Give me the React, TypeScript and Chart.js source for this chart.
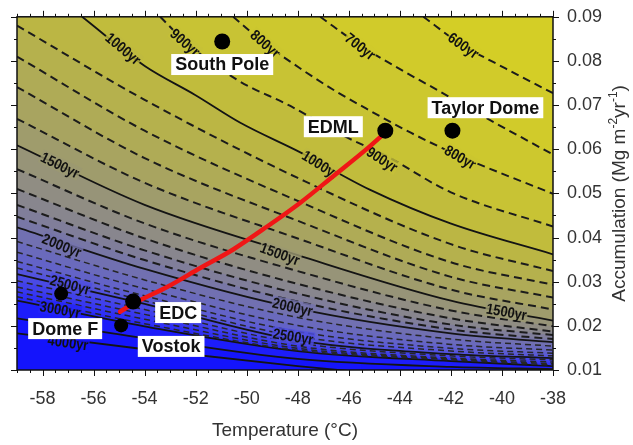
import React, { useEffect, useRef } from 'react';
import { Chart, registerables } from 'chart.js';

Chart.register(...registerables);

// ---------------- DATA ----------------
// Contour levels (Δage, years). Solid every 500 yr, dashed otherwise.
const contourLevels = [600, 700, 800, 900, 1000, 1100, 1200, 1300, 1400, 1500, 1600, 1700, 1800, 1900, 2000, 2100, 2200, 2300, 2400, 2500, 2600, 2700, 2800, 2900, 3000, 3500, 4000];

// Upper contours that enter from the top edge: [temperature °C, accumulation]
const c600 = [[-43.08, 0.09], [-41.63, 0.0839], [-39.86, 0.0783], [-38, 0.0727]];
const c700 = [[-47.12, 0.09], [-45.55, 0.0835], [-43.86, 0.0777], [-42.53, 0.0734], [-41.12, 0.0687], [-38, 0.0588]];
const c800 = [[-50.53, 0.09], [-49.27, 0.0839], [-47.9, 0.0783], [-46.53, 0.0732], [-45.16, 0.0687], [-43.59, 0.0638], [-41.71, 0.0586], [-38, 0.0499]];
const c900 = [[-53.39, 0.09], [-52.41, 0.0844], [-50.37, 0.0757], [-48.29, 0.0698], [-46.22, 0.0631], [-44.57, 0.0586], [-42.02, 0.0503], [-38, 0.0425]];
const c1000 = [[-56.45, 0.09], [-53.98, 0.0788], [-52.02, 0.0723], [-50.25, 0.066], [-47.9, 0.0593], [-45.16, 0.0508], [-42.02, 0.0432], [-38, 0.0362]];

// Lower contours: accumulation read at these temperatures
const columnTemps = [-59, -54, -48, -42, -38];
const acc1100 = [0.088, 0.0712, 0.0535, 0.0385, 0.0324];
const acc1200 = [0.081, 0.0642, 0.0483, 0.0344, 0.0293];
const acc1300 = [0.0741, 0.058, 0.0438, 0.0311, 0.0264];
const acc1400 = [0.0669, 0.0524, 0.0398, 0.0282, 0.0237];
const acc1500 = [0.0609, 0.0474, 0.036, 0.0257, 0.0212];
const acc1600 = [0.0555, 0.0432, 0.0324, 0.0235, 0.0199];
const acc1700 = [0.051, 0.0398, 0.0295, 0.0217, 0.0187];
const acc1800 = [0.0474, 0.0371, 0.0273, 0.0203, 0.0179];
const acc1900 = [0.0447, 0.0349, 0.0255, 0.0192, 0.017];
const acc2000 = [0.0423, 0.0329, 0.0239, 0.0183, 0.0163];
const acc2100 = [0.0391, 0.0304, 0.0219, 0.017, 0.0154];
const acc2200 = [0.0367, 0.0284, 0.0201, 0.0158, 0.0145];
const acc2300 = [0.0346, 0.0268, 0.0187, 0.0149, 0.0138];
const acc2400 = [0.0331, 0.0257, 0.0176, 0.0143, 0.0132];
const acc2500 = [0.0317, 0.025, 0.0167, 0.0136, 0.0127];
const acc2600 = [0.0302, 0.0237, 0.0161, 0.0132, 0.0123];
const acc2700 = [0.0288, 0.0226, 0.0154, 0.0127, 0.0118];
const acc2800 = [0.0277, 0.0215, 0.0149, 0.0125, 0.0114];
const acc2900 = [0.0266, 0.0205, 0.0145, 0.0123, 0.0111];
const acc3000 = [0.0257, 0.0199, 0.0143, 0.012, 0.0109];
const acc3500 = [0.0217, 0.0172, 0.0125, 0.0107, 0.0102];
const c4000 = [[-59, 0.0183], [-54, 0.0147], [-48, 0.0109], [-45.5, 0.0095]];

// Ice-core sites
const stationNames = ['South Pole', 'EDML', 'Taylor Dome', 'EDC', 'Vostok', 'Dome F'];
const stationTemps = [-50.96, -44.57, -41.94, -54.45, -54.92, -57.27];
const stationAccum = [0.0844, 0.0642, 0.0642, 0.0255, 0.0201, 0.0273];

// Red path (EDC -> EDML)
const pathTemps = [-54.96, -54.45, -53.12, -51.82, -50.53, -49.2, -47.9, -46.61, -45.27, -44.57];
const pathAccum = [0.0232, 0.025, 0.0288, 0.0331, 0.0373, 0.0425, 0.0479, 0.0539, 0.0602, 0.0638];

// Contour labels
const contourLabelText = ['1000yr', '900yr', '800yr', '700yr', '600yr', '1000yr', '900yr', '800yr', '1500yr', '1500yr', '1500yr', '2000yr', '2000yr', '2500yr', '2500yr', '3000yr', '4000yr'];
const contourLabelT = [-54.84, -52.41, -49.27, -45.55, -41.51, -47.1, -44.69, -41.63, -57.31, -48.7, -39.82, -57.24, -48.2, -56.92, -48.18, -57.31, -57.0];
const contourLabelA = [0.0828, 0.0842, 0.0839, 0.0833, 0.0835, 0.0565, 0.0577, 0.0582, 0.0564, 0.0363, 0.0232, 0.0382, 0.0243, 0.0293, 0.0176, 0.0237, 0.0162];

// ---------------- STYLE ----------------
const labelAngles = [40, 41, 41, 38, 35, 32, 33, 30, 26, 20, 10, 22, 13, 15, 9, 10, 8];
const stationLabelDx = [0, -52, 33, 45, 50, 4];
const stationLabelDy = [23, -4, -23, 11, 21, 35];
const stationRadius = [8, 8, 8, 8, 7, 7];
const FONT = '"Liberation Sans", Arial, sans-serif';

const colorStops: [number, number[]][] = [
  [500, [214, 208, 36]],
  [800, [203, 198, 48]],
  [1000, [190, 185, 64]],
  [1300, [172, 168, 90]],
  [1500, [155, 152, 114]],
  [1800, [132, 130, 148]],
  [2000, [116, 115, 172]],
  [2300, [96, 96, 204]],
  [2500, [78, 78, 226]],
  [2800, [52, 52, 242]],
  [3000, [36, 36, 248]],
  [4000, [20, 20, 252]],
];

function cmap(level: number, alpha = 1): string {
  if (level <= colorStops[0][0]) {
    const c = colorStops[0][1];
    return `rgba(${c[0]},${c[1]},${c[2]},${alpha})`;
  }
  for (let i = 1; i < colorStops.length; i++) {
    if (level <= colorStops[i][0]) {
      const [l0, a] = colorStops[i - 1];
      const [l1, b] = colorStops[i];
      const t = (level - l0) / (l1 - l0);
      const r = Math.round(a[0] + (b[0] - a[0]) * t);
      const g = Math.round(a[1] + (b[1] - a[1]) * t);
      const bl = Math.round(a[2] + (b[2] - a[2]) * t);
      return `rgba(${r},${g},${bl},${alpha})`;
    }
  }
  const c = colorStops[colorStops.length - 1][1];
  return `rgba(${c[0]},${c[1]},${c[2]},${alpha})`;
}

const lowerAccum = [acc1100, acc1200, acc1300, acc1400, acc1500, acc1600, acc1700, acc1800, acc1900, acc2000, acc2100, acc2200, acc2300, acc2400, acc2500, acc2600, acc2700, acc2800, acc2900, acc3000, acc3500];
const contourPts: number[][][] = [
  c600, c700, c800, c900, c1000,
  ...lowerAccum.map((arr) => arr.map((a, i) => [columnTemps[i], a])),
  c4000,
];

const FIRST_CONTOUR_INDEX = 2;

const decorPlugin = {
  id: 'decor',
  beforeDraw(chart: any) {
    const { ctx, chartArea: a } = chart;
    ctx.save();
    ctx.fillStyle = cmap(4300);
    ctx.fillRect(a.left, a.top, a.right - a.left, a.bottom - a.top);
    ctx.restore();
  },
  afterDatasetDraw(chart: any, args: any) {
    if (args.index !== FIRST_CONTOUR_INDEX) return;
    const { ctx, chartArea: a, scales } = chart;
    ctx.save();
    ctx.beginPath();
    ctx.rect(a.left, a.top, a.right - a.left, a.bottom - a.top);
    ctx.clip();
    ctx.font = `bold 15px ${FONT}`;
    ctx.textAlign = 'center';
    ctx.textBaseline = 'middle';
    contourLabelText.forEach((txt, i) => {
      const px = scales.x.getPixelForValue(contourLabelT[i]);
      const py = scales.y.getPixelForValue(contourLabelA[i]);
      const lvl = parseInt(txt, 10);
      ctx.save();
      ctx.translate(px, py);
      ctx.rotate((labelAngles[i] * Math.PI) / 180);
      ctx.scale(0.86, 1);
      const w = ctx.measureText(txt).width + 2;
      ctx.fillStyle = cmap(lvl, 0.8);
      ctx.fillRect(-w / 2, -7, w, 14);
      ctx.fillStyle = '#111';
      ctx.fillText(txt, 0, 1);
      ctx.restore();
    });
    ctx.restore();
  },
  afterDatasetsDraw(chart: any) {
    const { ctx, scales } = chart;
    ctx.save();
    ctx.font = `bold 18px ${FONT}`;
    ctx.textAlign = 'center';
    ctx.textBaseline = 'middle';
    stationNames.forEach((name, i) => {
      const px = scales.x.getPixelForValue(stationTemps[i]) + stationLabelDx[i];
      const py = scales.y.getPixelForValue(stationAccum[i]) + stationLabelDy[i];
      const w = ctx.measureText(name).width + 8;
      const h = 21;
      ctx.fillStyle = '#ffffff';
      ctx.fillRect(px - w / 2, py - h / 2, w, h);
      ctx.fillStyle = '#111';
      ctx.fillText(name, px, py + 1);
    });
    ctx.restore();
  },
  afterDraw(chart: any) {
    const { ctx, chartArea: a, scales } = chart;
    const x = scales.x;
    const y = scales.y;
    ctx.save();
    ctx.strokeStyle = '#111';
    ctx.lineWidth = 1;
    ctx.beginPath();
    x.ticks.forEach((t: any) => {
      const v = t.value;
      const major = Math.abs(v - Math.round(v)) < 1e-6 && Math.round(v) % 2 === 0;
      const len = major ? 6 : 3;
      const p = Math.round(x.getPixelForValue(v)) + 0.5;
      ctx.moveTo(p, a.bottom);
      ctx.lineTo(p, a.bottom + len);
      ctx.moveTo(p, a.top);
      ctx.lineTo(p, a.top - len);
    });
    y.ticks.forEach((t: any) => {
      const v = t.value * 100;
      const major = Math.abs(v - Math.round(v)) < 1e-6;
      const len = major ? 6 : 3;
      const p = Math.round(y.getPixelForValue(t.value)) + 0.5;
      ctx.moveTo(a.left, p);
      ctx.lineTo(a.left - len, p);
      ctx.moveTo(a.right, p);
      ctx.lineTo(a.right + len, p);
    });
    ctx.stroke();
    ctx.lineWidth = 1.5;
    ctx.strokeRect(a.left, a.top, a.right - a.left, a.bottom - a.top);

    // right axis title (reads bottom-to-top, with superscripts)
    const parts = [
      { t: 'Accumulation (Mg m', sup: false },
      { t: '-2', sup: true },
      { t: 'yr', sup: false },
      { t: '-1', sup: true },
      { t: ')', sup: false },
    ];
    const mainFont = `19px ${FONT}`;
    const supFont = `12px ${FONT}`;
    let total = 0;
    parts.forEach((p) => {
      ctx.font = p.sup ? supFont : mainFont;
      total += ctx.measureText(p.t).width;
    });
    ctx.translate(620, (a.top + a.bottom) / 2);
    ctx.rotate(-Math.PI / 2);
    ctx.fillStyle = '#333';
    ctx.textBaseline = 'middle';
    ctx.textAlign = 'left';
    let cx = -total / 2;
    parts.forEach((p) => {
      ctx.font = p.sup ? supFont : mainFont;
      ctx.fillText(p.t, cx, p.sup ? -6 : 0);
      cx += ctx.measureText(p.t).width;
    });
    ctx.restore();
  },
};

export default function App() {
  const ref = useRef<HTMLCanvasElement>(null);

  useEffect(() => {
    document.body.style.margin = '0';
    const canvas = ref.current;
    if (!canvas) return;
    Chart.defaults.font.family = FONT;

    const contourDatasets = contourLevels.map((lvl, i) => {
      const solid = lvl % 500 === 0;
      const dense = lvl > 2000;
      return {
        type: 'line' as const,
        label: `${lvl}yr`,
        data: contourPts[i].map((p) => ({ x: p[0], y: p[1] })),
        borderColor: solid ? '#141414' : dense ? '#262626' : '#1c1c1c',
        borderWidth: solid ? 1.8 : dense ? 1.5 : 2,
        borderDash: solid ? [] : dense ? [6, 4] : [8, 5],
        pointRadius: 0,
        cubicInterpolationMode: 'monotone' as const,
        fill: 'end',
        backgroundColor: cmap(lvl - 50),
        clip: 0,
      };
    });

    const chart = new Chart(canvas, {
      type: 'line',
      data: {
        datasets: [
          {
            type: 'line',
            label: 'sites',
            data: stationNames.map((_, i) => ({ x: stationTemps[i], y: stationAccum[i] })),
            showLine: false,
            pointRadius: stationRadius,
            pointBackgroundColor: '#000',
            pointBorderWidth: 0,
            fill: false,
          },
          {
            type: 'line',
            label: 'path',
            data: pathTemps.map((t, i) => ({ x: t, y: pathAccum[i] })),
            borderColor: '#f01616',
            borderWidth: 4.5,
            pointRadius: 0,
            cubicInterpolationMode: 'monotone',
            fill: false,
            borderCapStyle: 'round',
          },
          ...contourDatasets,
        ] as any,
      },
      options: {
        responsive: false,
        animation: false,
        devicePixelRatio: 1,
        events: [],
        layout: { padding: 0 },
        plugins: {
          legend: { display: false },
          tooltip: { enabled: false },
          filler: { propagate: false },
        },
        scales: {
          x: {
            type: 'linear',
            position: 'bottom',
            min: -59,
            max: -38,
            grid: { display: false },
            border: { display: false },
            ticks: {
              stepSize: 0.5,
              autoSkip: false,
              maxRotation: 0,
              padding: 10,
              color: '#333',
              font: { size: 18 },
              callback: (v: any) => {
                const n = Number(v);
                const r = Math.round(n);
                return Math.abs(n - r) < 1e-6 && r % 2 === 0 ? String(r) : '';
              },
            },
            title: {
              display: true,
              text: 'Temperature (°C)',
              color: '#333',
              font: { size: 19 },
              padding: { top: 0, bottom: 3 },
            },
            afterFit: (s: any) => {
              s.height = 75;
            },
          },
          x2: {
            type: 'linear',
            position: 'top',
            min: -59,
            max: -38,
            grid: { display: false },
            border: { display: false },
            ticks: { display: false },
            afterFit: (s: any) => {
              s.height = 13;
            },
          },
          y: {
            type: 'linear',
            position: 'right',
            min: 0.01,
            max: 0.09,
            grid: { display: false },
            border: { display: false },
            ticks: {
              stepSize: 0.005,
              autoSkip: false,
              padding: 6,
              color: '#333',
              font: { size: 18 },
              callback: (v: any) => {
                const c = Number(v) * 100;
                return Math.abs(c - Math.round(c)) < 1e-6 ? (Math.round(c) / 100).toFixed(2) : '';
              },
            },
            afterFit: (s: any) => {
              s.width = 80;
            },
          },
          y2: {
            type: 'linear',
            position: 'left',
            min: 0.01,
            max: 0.09,
            grid: { display: false },
            border: { display: false },
            ticks: { display: false },
            afterFit: (s: any) => {
              s.width = 17;
            },
          },
        },
      } as any,
      plugins: [decorPlugin],
    });

    return () => chart.destroy();
  }, []);

  return (
    <div style={{ width: 633, height: 445 }}>
      <canvas ref={ref} width={633} height={445} style={{ display: 'block', width: 633, height: 445 }} />
    </div>
  );
}
